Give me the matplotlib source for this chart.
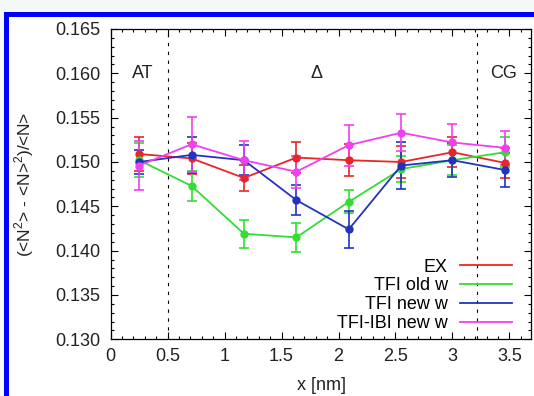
import numpy as np
import matplotlib
matplotlib.use('Agg')
import matplotlib.pyplot as plt
from matplotlib.lines import Line2D
from matplotlib.patches import Rectangle
from matplotlib.ticker import MultipleLocator, FormatStrFormatter

plt.rcParams['font.family'] = ['Liberation Sans', 'DejaVu Sans']
plt.rcParams['mathtext.fontset'] = 'custom'
plt.rcParams['mathtext.rm'] = 'Liberation Sans'

# positions along the DNA [nm]
x = [0.25, 0.71, 1.17, 1.63, 2.09, 2.55, 3.00, 3.46]

ex = [0.1509, 0.1504, 0.1482, 0.1505, 0.1502, 0.1500, 0.1511, 0.1499]
ex_err = [0.0019, 0.0017, 0.0015, 0.0017, 0.0018, 0.0018, 0.0017, 0.0017]

tfi_old = [0.1502, 0.1473, 0.1419, 0.1415, 0.1455, 0.1492, 0.1502, 0.1511]
tfi_old_err = [0.0019, 0.0017, 0.0016, 0.0016, 0.0013, 0.0015, 0.0017, 0.0017]

tfi_new = [0.1500, 0.1508, 0.1502, 0.1457, 0.1424, 0.1496, 0.1502, 0.1491]
tfi_new_err = [0.0014, 0.0020, 0.0017, 0.0017, 0.0021, 0.0026, 0.0019, 0.0019]

ibi_new = [0.1496, 0.1520, 0.1502, 0.1489, 0.1519, 0.1533, 0.1522, 0.1516]
ibi_new_err = [0.0028, 0.0031, 0.0022, 0.0018, 0.0023, 0.0021, 0.0021, 0.0019]

labels = ['EX', 'TFI old w', 'TFI new w', 'TFI-IBI new w']
colors = ['#e8262a', '#33dd33', '#2233c0', '#f040f0']

region_bounds = [0.5, 3.22]
region_labels = [(0.277, 'AT'), (1.805, r'$\Delta$'), (3.45, 'CG')]

fig = plt.figure(figsize=(5.34, 3.96), dpi=100)
fig.patch.set_facecolor('white')

# blue frame on the left and top edges (cropped figure border)
W, H = 534.0, 396.0
fig.patches.append(Rectangle((0, 1 - 12 / H), 1, 12 / H, transform=fig.transFigure,
                             facecolor='#f3f8f8', edgecolor='none', zorder=0))
fig.patches.append(Rectangle((0, 0), 4 / W, 1 - 12 / H, transform=fig.transFigure,
                             facecolor='#f3f8f8', edgecolor='none', zorder=0))
fig.patches.append(Rectangle((4 / W, 0), 5 / W, 1 - 12 / H, transform=fig.transFigure,
                             facecolor='#0000ff', edgecolor='none', zorder=1))
fig.patches.append(Rectangle((4 / W, 1 - 17 / H), 1, 5 / H, transform=fig.transFigure,
                             facecolor='#0000ff', edgecolor='none', zorder=1))

ax = fig.add_axes([110.7 / W, 1 - 339.3 / H, (531.0 - 110.7) / W, (339.3 - 29.0) / H])

series = [(ex, ex_err), (tfi_old, tfi_old_err), (tfi_new, tfi_new_err), (ibi_new, ibi_new_err)]
for (y, yerr), c in zip(series, colors):
    ax.errorbar(x, y, yerr=yerr, color=c, marker='o', markersize=5, lw=1.3,
                elinewidth=1.2, capsize=3.5, capthick=1.2)

for xb in region_bounds:
    ax.axvline(xb, color='black', lw=0.8, dashes=(3, 5))

for xt, txt in region_labels:
    ax.text(xt, 0.1600, txt, ha='center', va='center', fontsize=13, color='#222222')

ax.set_xlim(0, 3.69)
ax.set_ylim(0.130, 0.165)
ax.xaxis.set_major_locator(MultipleLocator(0.5))
ax.xaxis.set_minor_locator(MultipleLocator(0.1))
ax.yaxis.set_major_locator(MultipleLocator(0.005))
ax.yaxis.set_minor_locator(MultipleLocator(0.001))
ax.xaxis.set_major_formatter(plt.FuncFormatter(lambda v, p: ('%g' % v)))
ax.yaxis.set_major_formatter(FormatStrFormatter('%.3f'))
ax.tick_params(which='both', direction='in', top=True, right=True,
               labelsize=13, labelcolor='#222222', width=0.8)
ax.tick_params(which='major', length=5)
ax.tick_params(which='minor', length=2.5)
ax.tick_params(axis='x', pad=6.5)
ax.tick_params(axis='y', pad=7.5)
for s in ax.spines.values():
    s.set_linewidth(0.9)

ax.set_xlabel('x [nm]', fontsize=13, color='#222222')
ax.xaxis.set_label_coords(0.502, -0.123)
ax.set_ylabel(r'(<N$^2$> - <N>$^2$)/<N>', fontsize=12.5, color='#222222')
ax.yaxis.set_label_coords(-0.178, 0.50)

handles = [Line2D([0], [0], color=c, lw=1.3) for c in colors]
ax.legend(handles, labels, loc='lower right', bbox_to_anchor=(0.971, 0.0),
          markerfirst=False, frameon=False, fontsize=13, handlelength=2.87,
          handletextpad=0.66, labelspacing=0.1, borderaxespad=0.0)

plt.savefig('out.png', dpi=100)
